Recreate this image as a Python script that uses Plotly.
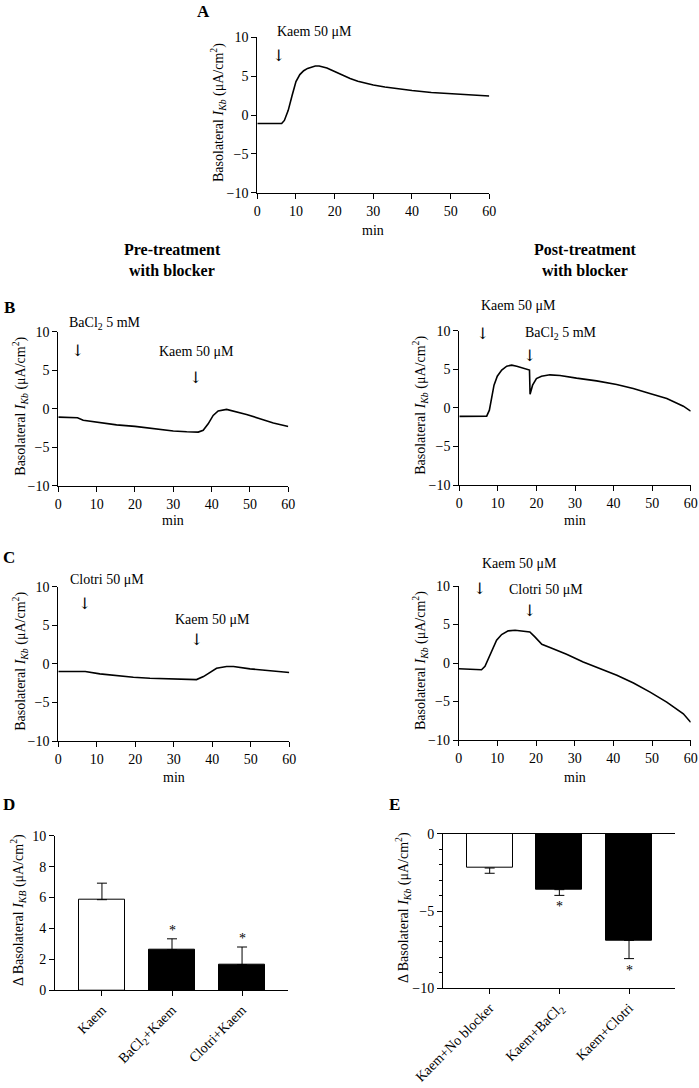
import plotly.graph_objects as go

W, H = 699, 1088
FONT = "Liberation Serif"

# ---------------- data ----------------
# Panel A: Kaem 50 uM
tA = [0, 6.3, 7.0, 8.0, 9.0, 10.0, 11.0, 12.0, 13.0, 14.0, 15.0, 16.0, 17.0, 18.0, 20.0, 22.0,
      24.0, 26.0, 28.0, 30.0, 33.0, 36.0, 40.0, 45.0, 50.0, 55.0, 60.0]
iA = [-1.1, -1.1, -0.7, 0.6, 2.5, 4.3, 5.2, 5.7, 6.0, 6.2, 6.3, 6.3, 6.2, 6.05, 5.6, 5.1,
      4.7, 4.35, 4.05, 3.85, 3.6, 3.4, 3.15, 2.9, 2.75, 2.65, 2.45]

# Panel B left: BaCl2 then Kaem
tBl = [0, 5.0, 6.5, 10.0, 15.2, 20.0, 24.8, 30.0, 33.5, 36.5, 37.8, 39.1, 40.4, 41.7, 43.9,
       45.7, 49.1, 52.6, 56.1, 60.0]
iBl = [-1.09, -1.17, -1.5, -1.74, -2.1, -2.3, -2.6, -2.9, -3.0, -3.04, -2.8, -1.96, -0.87,
       -0.3, -0.09, -0.3, -0.74, -1.3, -1.87, -2.3]

# Panel B right: Kaem then BaCl2
tBr = [0, 7.1, 7.8, 8.4, 9.0, 9.85, 11.0, 12.3, 13.6, 14.9, 16.6, 18.2, 18.35, 19.0, 20.0,
       21.3, 23.5, 26.1, 30.4, 35.6, 40.8, 45.1, 49.4, 53.8, 58.1, 60.0]
iBr = [-1.1, -1.08, -0.3, 1.43, 2.94, 4.1, 4.9, 5.4, 5.54, 5.4, 5.15, 4.9, 1.77, 2.94, 3.8,
       4.1, 4.28, 4.2, 3.85, 3.5, 3.03, 2.5, 1.86, 1.21, 0.22, -0.43]

# Panel C left: Clotri then Kaem
tCl = [0, 7.0, 10.8, 15.2, 19.5, 23.8, 28.1, 32.5, 35.9, 37.7, 39.4, 41.1, 43.7, 45.5, 49.8,
       54.1, 60.0]
iCl = [-1.0, -1.0, -1.3, -1.57, -1.74, -1.87, -1.9, -1.96, -2.04, -1.65, -1.09, -0.57, -0.35,
       -0.35, -0.65, -0.87, -1.13]

# Panel C right: Kaem then Clotri
tCr = [0, 4.7, 5.9, 6.8, 7.7, 8.8, 9.8, 11.1, 12.8, 14.6, 16.7, 18.4, 19.7, 21.5, 23.6, 27.9,
       32.2, 36.6, 40.9, 45.2, 49.5, 53.8, 58.1, 60.0]
iCr = [-0.74, -0.87, -0.87, -0.43, 0.57, 2.0, 2.96, 3.7, 4.17, 4.26, 4.17, 4.04, 3.39, 2.43,
       2.0, 1.13, 0.13, -0.74, -1.6, -2.6, -3.78, -5.09, -6.6, -7.7]

# Panel D
catD = ["Kaem", "BaCl<sub>2</sub>+Kaem", "Clotri+Kaem"]
valD = [5.86, 2.62, 1.66]
errD = [1.07, 0.71, 1.14]
sigD = [False, True, True]
fillD = ["white", "black", "black"]

# Panel E
catE = ["Kaem+No blocker", "Kaem+BaCl<sub>2</sub>", "Kaem+Clotri"]
valE = [-2.22, -3.62, -6.90]
errE = [0.34, 0.37, 1.18]
sigE = [False, True, True]
fillE = ["white", "black", "black"]

xticks_time = [0, 10, 20, 30, 40, 50, 60]
yticks_trace = [-10, -5, 0, 5, 10]
yticks_D = [0, 2, 4, 6, 8, 10]
yticks_E = [-10, -5, 0]

# ---------------- geometry (pixels) ----------------
def px_dom_x(a, b):
    return [a / W, b / W]

def px_dom_y(top, bottom):
    return [1 - bottom / H, 1 - top / H]

panels = {
    1: (257.3, 489.3, 37.3, 192.7),   # A
    2: (58.3, 288.3, 331.7, 485.7),   # B left
    3: (459.3, 690.7, 330.7, 485.0),  # B right
    4: (58.3, 289.3, 586.7, 741.0),   # C left
    5: (458.7, 690.7, 586.0, 740.0),  # C right
    6: (55.0, 288.3, 835.7, 990.3),   # D
    7: (443.0, 675.0, 833.7, 988.3),  # E
}

def ax_name(letter, k):
    return letter if k == 1 else f"{letter}{k}"

fig = go.Figure()

line_style = dict(color="black", width=1.6)
traces = [(tA, iA, 1), (tBl, iBl, 2), (tBr, iBr, 3), (tCl, iCl, 4), (tCr, iCr, 5)]
for t, v, k in traces:
    fig.add_trace(go.Scatter(x=t, y=v, mode="lines", line=line_style,
                             xaxis=ax_name("x", k), yaxis=ax_name("y", k),
                             showlegend=False, hoverinfo="skip"))

fig.add_trace(go.Bar(x=[0, 1, 2], y=valD, width=0.66,
                     marker=dict(color=fillD, line=dict(color="black", width=1)),
                     error_y=dict(type="data", symmetric=False, array=errD,
                                  arrayminus=[0, 0, 0], color="black", thickness=1, width=5),
                     xaxis="x6", yaxis="y6", showlegend=False))
fig.add_trace(go.Bar(x=[0, 1, 2], y=valE, width=0.66,
                     marker=dict(color=fillE, line=dict(color="black", width=1)),
                     error_y=dict(type="data", symmetric=False, array=[0, 0, 0],
                                  arrayminus=errE, color="black", thickness=1, width=5),
                     xaxis="x7", yaxis="y7", showlegend=False))

base_axis = dict(showline=True, linecolor="black", linewidth=1, ticks="outside", ticklen=5,
                 tickwidth=1, tickcolor="black", showgrid=False, zeroline=False,
                 automargin=False,
                 tickfont=dict(family=FONT, size=14, color="black"), fixedrange=True)

layout = {}
for k, (x0, x1, y0, y1) in panels.items():
    xa = dict(base_axis, domain=px_dom_x(x0, x1), anchor=ax_name("y", k))
    ya = dict(base_axis, domain=px_dom_y(y0, y1), anchor=ax_name("x", k))
    if k <= 5:
        xa.update(range=[0, 60], tickvals=xticks_time)
        ya.update(range=[-10, 10], tickvals=yticks_trace)
    elif k == 6:
        xa.update(range=[-0.67, 2.66], tickvals=[0, 1, 2], ticktext=catD, tickangle=-45)
        ya.update(range=[0, 10], tickvals=yticks_D)
    else:
        xa.update(range=[-0.67, 2.66], tickvals=[0, 1, 2], ticktext=catE, tickangle=-45,
                  mirror=True)
        ya.update(range=[-10, 0], tickvals=yticks_E,
                  minor=dict(dtick=1, ticks="outside", ticklen=3, tickcolor="black", tickwidth=1))
    layout[ax_name("xaxis", k)] = xa
    layout[ax_name("yaxis", k)] = ya

fig.update_layout(**layout)

ann = []

def paper_text(text, xp, yp, size=14, bold=False, angle=0, xanchor="center"):
    t = f"<b>{text}</b>" if bold else text
    ann.append(dict(text=t, x=xp / W, y=1 - yp / H, xref="paper", yref="paper",
                    showarrow=False, textangle=angle, xanchor=xanchor, yanchor="middle",
                    font=dict(family=FONT, size=size, color="black")))

def data_text(text, k, x, y, ymin, ymax, xanchor="left", size=14, family=FONT):
    # x in data units, y in data units converted to the axis domain (so text may sit outside)
    ann.append(dict(text=text, x=x, y=(y - ymin) / (ymax - ymin), xref=ax_name("x", k),
                    yref=ax_name("y", k) + " domain", showarrow=False,
                    xanchor=xanchor, yanchor="middle",
                    font=dict(family=family, size=size, color="black")))

# panel letters
paper_text("A", 203, 12, size=17, bold=True)
paper_text("B", 9, 307, size=17, bold=True)
paper_text("C", 9, 557, size=17, bold=True)
paper_text("D", 9, 804, size=17, bold=True)
paper_text("E", 395, 804, size=17, bold=True)

# section headings
paper_text("Pre-treatment", 172, 250, size=16, bold=True)
paper_text("with blocker", 172, 271, size=16, bold=True)
paper_text("Post-treatment", 585, 250, size=16, bold=True)
paper_text("with blocker", 585, 271, size=16, bold=True)

# y titles
ytitle = "Basolateral <i>I</i><sub><i>Kb</i></sub> (μA/cm<sup>2</sup>)"
for k, xp in [(1, 218), (2, 20), (3, 420), (4, 20), (5, 420)]:
    x0, x1, y0, y1 = panels[k]
    paper_text(ytitle, xp, (y0 + y1) / 2 - 2, angle=-90)
paper_text("Δ Basolateral <i>I</i><sub><i>KB</i></sub> (μA/cm<sup>2</sup>)", 18, 910, angle=-90)
paper_text("Δ Basolateral <i>I</i><sub><i>Kb</i></sub> (μA/cm<sup>2</sup>)", 403, 908, angle=-90)

# x titles
for k, yp in [(1, 230), (2, 520), (3, 520), (4, 777), (5, 777)]:
    x0, x1, y0, y1 = panels[k]
    paper_text("min", (x0 + x1) / 2, yp)

# drug annotations
ARROW = "\u2193"
def drug(k, text, tx, ty, ax, ay):
    data_text(text, k, tx, ty, -10, 10)
    data_text(ARROW, k, ax, ay, -10, 10, xanchor="center", size=16, family="DejaVu Serif")

drug(1, "Kaem 50 μM", 4.6, 10.7, 5.6, 7.7)
drug(2, "BaCl<sub>2</sub> 5 mM", 2.3, 11.1, 4.9, 7.6)
drug(2, "Kaem 50 μM", 25.7, 7.4, 35.7, 4.1)
drug(3, "Kaem 50 μM", 5.1, 13.3, 6.0, 9.7)
drug(3, "BaCl<sub>2</sub> 5 mM", 16.5, 9.7, 18.1, 6.85)
drug(4, "Clotri 50 μM", 2.5, 10.9, 6.9, 7.85)
drug(4, "Kaem 50 μM", 29.8, 5.8, 35.8, 3.1)
drug(5, "Kaem 50 μM", 5.5, 12.86, 5.3, 9.7)
drug(5, "Clotri 50 μM", 12.5, 9.57, 18.3, 6.8)

# significance stars
for i, (v, e, s) in enumerate(zip(valD, errD, sigD)):
    if s:
        data_text("*", 6, i, v + e + 0.55, 0, 10, xanchor="center")
for i, (v, e, s) in enumerate(zip(valE, errE, sigE)):
    if s:
        data_text("*", 7, i, v - e - 0.75, -10, 0, xanchor="center")

fig.update_layout(width=W, height=H, margin=dict(l=0, r=0, t=0, b=0),
                  paper_bgcolor="white", plot_bgcolor="white", annotations=ann,
                  font=dict(family=FONT, size=14, color="black"), bargap=0)

fig.write_html("out.html", config={"displayModeBar": False},
               post_script="document.body.style.margin='0';document.body.style.overflow='hidden';")
